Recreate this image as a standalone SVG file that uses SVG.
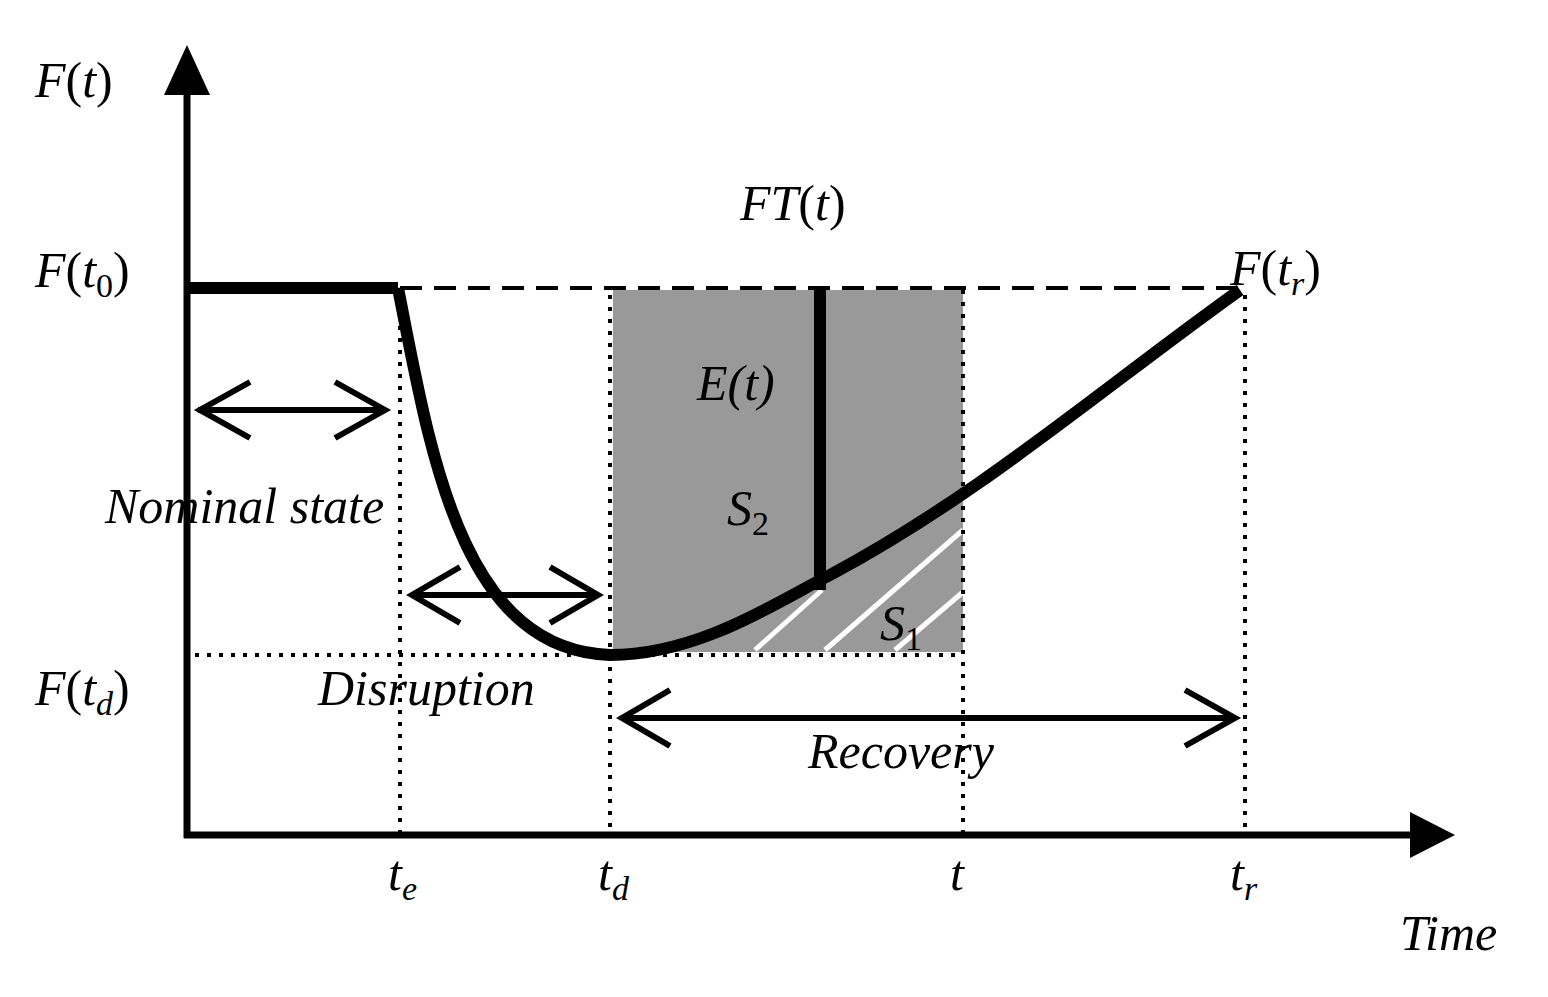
<svg xmlns="http://www.w3.org/2000/svg" width="1548" height="997" viewBox="0 0 1548 997">
<style>
text{font-family:"Liberation Serif",serif;font-style:italic;font-size:50px;fill:#000}
.s{font-size:34px}
.n{font-style:normal}
.dot{stroke:#000;stroke-width:4;stroke-dasharray:4 8;fill:none}
.arr{stroke:#000;stroke-width:6;fill:none}
</style>
<rect width="1548" height="997" fill="#fff"/>
<g id="shade">
<rect x="613" y="290" width="350" height="362" fill="#999"/>
<g stroke="#fff" stroke-width="5">
<line x1="755" y1="650" x2="822" y2="590"/>
<line x1="825" y1="650" x2="963" y2="530"/>
<line x1="895" y1="650" x2="963" y2="592"/>
</g>
</g>
<g id="connectors">
<line class="dot" x1="400" y1="290" x2="400" y2="835"/>
<line class="dot" x1="610" y1="295" x2="610" y2="835"/>
<line class="dot" x1="963" y1="290" x2="963" y2="835"/>
<line class="dot" x1="1245" y1="295" x2="1245" y2="835"/>
<line class="dot" x1="195" y1="655" x2="963" y2="655"/>
<line x1="400" y1="288" x2="1240" y2="288" stroke="#000" stroke-width="4" stroke-dasharray="22 12"/>
<line x1="187" y1="838" x2="187" y2="90" stroke="#000" stroke-width="7"/>
<polygon points="187,45 164,95 210,95" fill="#000"/>
<line x1="184" y1="835" x2="1415" y2="835" stroke="#000" stroke-width="7"/>
<polygon points="1455,835 1410,812 1410,858" fill="#000"/>
<line x1="190" y1="288" x2="398" y2="288" stroke="#000" stroke-width="12"/>
<path d="M398,288 C430,450 460,650 610,655 C700,655 780,600 830,575 C980,495 1100,390 1240,290" stroke="#000" stroke-width="12" fill="none"/>
<line x1="820" y1="288" x2="820" y2="590" stroke="#000" stroke-width="12"/>
<g class="arr">
<line x1="198" y1="410" x2="385" y2="410"/><polyline points="250,382 200,410 250,438"/><polyline points="335,382 385,410 335,438"/>
<line x1="412" y1="595" x2="598" y2="595"/><polyline points="460,567 412,595 460,623"/><polyline points="550,567 598,595 550,623"/>
<line x1="622" y1="718" x2="1235" y2="718"/><polyline points="670,690 622,718 670,746"/><polyline points="1185,690 1235,718 1185,746"/>
</g>
</g>
<g id="labels">
<text x="35" y="97">F<tspan class="n">(</tspan>t<tspan class="n">)</tspan></text>
<text x="35" y="287">F<tspan class="n">(</tspan>t<tspan class="s n" dy="10">0</tspan><tspan class="n" dy="-10">)</tspan></text>
<text x="35" y="705">F<tspan class="n">(</tspan>t<tspan class="s" dy="10">d</tspan><tspan class="n" dy="-10">)</tspan></text>
<text x="740" y="220">FT<tspan class="n">(</tspan>t<tspan class="n">)</tspan></text>
<text x="1230" y="285">F<tspan class="n">(</tspan>t<tspan class="s" dy="10">r</tspan><tspan class="n" dy="-10">)</tspan></text>
<text x="697" y="400">E(t)</text>
<text x="727" y="525">S<tspan class="s n" dy="10">2</tspan></text>
<text x="880" y="640">S<tspan class="s n" dy="10">1</tspan></text>
<text x="105" y="523">Nominal state</text>
<text x="318" y="705">Disruption</text>
<text x="808" y="768">Recovery</text>
<text x="388" y="890">t<tspan class="s" dy="10">e</tspan></text>
<text x="598" y="890">t<tspan class="s" dy="10">d</tspan></text>
<text x="950" y="890">t</text>
<text x="1230" y="890">t<tspan class="s" dy="10">r</tspan></text>
<text x="1400" y="950">Time</text>
</g>
</svg>
